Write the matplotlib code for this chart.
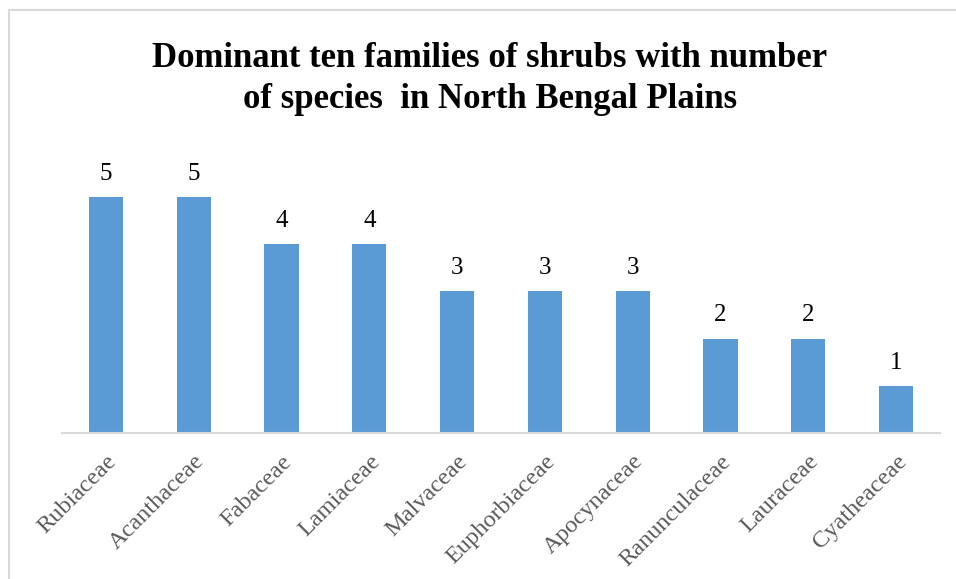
import matplotlib.pyplot as plt
from matplotlib.lines import Line2D

families = ["Rubiaceae", "Acanthaceae", "Fabaceae", "Lamiaceae", "Malvaceae",
            "Euphorbiaceae", "Apocynaceae", "Ranunculaceae", "Lauraceae", "Cyatheaceae"]
species = [5, 5, 4, 4, 3, 3, 3, 2, 2, 1]

plt.rcParams['font.family'] = ['Liberation Serif', 'DejaVu Serif']

fig = plt.figure(figsize=(9.56, 5.79), dpi=100)
ax = fig.add_axes([0.0649, 0.2522, 0.9184, 0.4888])

x = range(len(families))
bars = ax.bar(x, species, width=0.39, color='#5B9BD5', zorder=2)
for b, v in zip(bars, species):
    ax.text(b.get_x() + b.get_width() / 2, v + 0.26, str(v),
            ha='center', va='bottom', fontsize=18, color='black')

ax.set_xlim(-0.5, len(families) - 0.5)
ax.set_ylim(0, 6)
ax.set_yticks([])
ax.set_xticks(list(x))
ax.set_xticklabels(families, rotation=45, ha='right', rotation_mode='anchor',
                   fontsize=17.5, color='#595959')
ax.tick_params(axis='x', length=0, pad=13)
for s in ['top', 'right', 'left']:
    ax.spines[s].set_visible(False)
ax.spines['bottom'].set_color('#D9D9D9')
ax.spines['bottom'].set_linewidth(1.5)

fig.text(0.5125, 0.863, "Dominant ten families of shrubs with number\nof species  in North Bengal Plains",
         ha='center', va='center', fontsize=25, fontweight='bold', linespacing=1.32)

# chart area border (top and left visible)
fig.add_artist(Line2D([9 / 956, 9 / 956], [0, 1 - 10 / 579], color='#D9D9D9', lw=1.5))
fig.add_artist(Line2D([9 / 956, 1], [1 - 10 / 579, 1 - 10 / 579], color='#D9D9D9', lw=1.5))

fig.savefig('out.png', dpi=100)
